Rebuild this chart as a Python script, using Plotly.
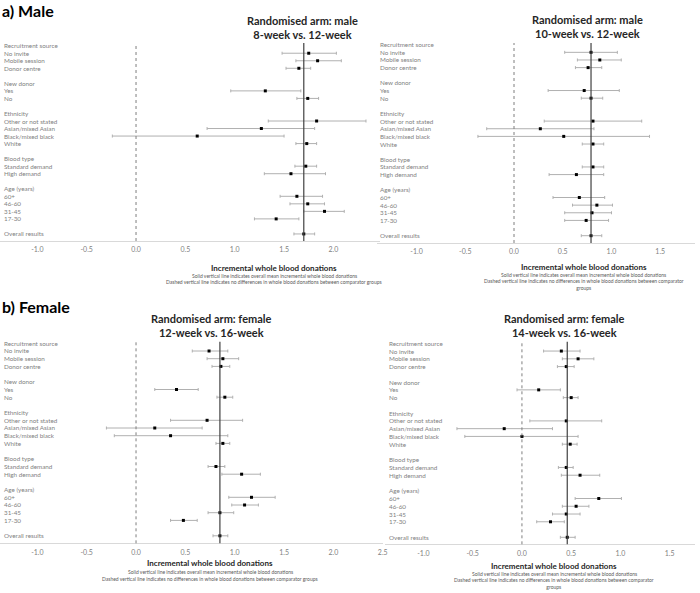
import plotly.graph_objects as go

W, H = 700, 593

# ---------------- data ----------------
row_labels = ["Recruitment source", "No invite", "Mobile session", "Donor centre", "",
              "New donor", "Yes", "No", "",
              "Ethnicity", "Other or not stated", "Asian/mixed Asian", "Black/mixed black", "White", "",
              "Blood type", "Standard demand", "High demand", "",
              "Age (years)", "60+", "46-60", "31-45", "17-30", "",
              "Overall results"]

subgroups = ["No invite", "Mobile session", "Donor centre", "Yes", "No",
             "Other or not stated", "Asian/mixed Asian", "Black/mixed black", "White",
             "Standard demand", "High demand", "60+", "46-60", "31-45", "17-30", "Overall results"]

tick_vals = [-1.0, -0.5, 0.0, 0.5, 1.0, 1.5, 2.0, 2.5]
tick_text = ["-1.0", "-0.5", "0.0", "0.5", "1.0", "1.5", "2.0", "2.5"]

# Panel a-left: male 8-week vs 12-week
m8_est = [1.75, 1.84, 1.65, 1.31, 1.74, 1.83, 1.27, 0.62, 1.73, 1.72, 1.57, 1.63, 1.74, 1.91, 1.42, 1.70]
m8_lo  = [1.48, 1.62, 1.52, 0.96, 1.63, 1.34, 0.72, -0.24, 1.62, 1.61, 1.30, 1.46, 1.56, 1.70, 1.20, 1.60]
m8_hi  = [2.03, 2.08, 1.77, 1.67, 1.85, 2.33, 1.81, 1.50, 1.83, 1.83, 1.92, 1.89, 1.91, 2.11, 1.65, 1.81]

# Panel a-right: male 10-week vs 12-week
m10_est = [0.79, 0.88, 0.76, 0.72, 0.79, 0.81, 0.27, 0.51, 0.81, 0.81, 0.64, 0.67, 0.85, 0.80, 0.74, 0.79]
m10_lo  = [0.52, 0.65, 0.63, 0.35, 0.69, 0.31, -0.28, -0.37, 0.70, 0.70, 0.36, 0.40, 0.60, 0.52, 0.52, 0.69]
m10_hi  = [1.06, 1.10, 0.90, 1.08, 0.91, 1.31, 0.82, 1.39, 0.92, 0.92, 0.92, 0.93, 1.01, 1.00, 0.97, 0.90]

# Panel b-left: female 12-week vs 16-week
f12_est = [0.74, 0.88, 0.86, 0.41, 0.90, 0.72, 0.19, 0.35, 0.88, 0.81, 1.07, 1.17, 1.10, 0.85, 0.48, 0.85]
f12_lo  = [0.57, 0.72, 0.77, 0.19, 0.82, 0.35, -0.30, -0.22, 0.81, 0.73, 0.87, 0.94, 0.97, 0.73, 0.35, 0.78]
f12_hi  = [0.93, 1.04, 0.95, 0.63, 0.98, 1.08, 0.67, 0.93, 0.95, 0.90, 1.26, 1.41, 1.24, 0.99, 0.62, 0.93]

# Panel b-right: female 14-week vs 16-week
f14_est = [0.40, 0.57, 0.45, 0.17, 0.50, 0.45, -0.18, 0.00, 0.49, 0.45, 0.59, 0.78, 0.55, 0.45, 0.29, 0.46]
f14_lo  = [0.22, 0.41, 0.36, -0.05, 0.42, 0.08, -0.66, -0.58, 0.41, 0.37, 0.40, 0.54, 0.41, 0.31, 0.15, 0.39]
f14_hi  = [0.59, 0.73, 0.53, 0.39, 0.57, 0.81, 0.31, 0.57, 0.56, 0.52, 0.79, 1.01, 0.68, 0.59, 0.43, 0.54]

panel_titles = ["Randomised arm: male<br>8-week vs. 12-week",
                "Randomised arm: male<br>10-week vs. 12-week",
                "Randomised arm: female<br>12-week vs. 16-week",
                "Randomised arm: female<br>14-week vs. 16-week"]
axis_title = "Incremental whole blood donations"
note1 = "Solid vertical line indicates overall mean incremental whole blood donations"
note2 = "Dashed vertical line indicates no differences in whole blood donations between comparator groups"
note2_wrapped = "Dashed vertical line indicates no differences in whole blood donations between comparator<br>groups"

# ---------------- layout geometry (pixels) ----------------
panels = [
    dict(est=m8_est, lo=m8_lo, hi=m8_hi, x0=0, x1=383, zero=137.0, ppu=99.4,
         ytop=43, ybot=241, row0=45.7, rowsp=7.53, lab_x=2,
         title_xy=(305, 28), ax_xy=(276, 267.5), notes=[(276, 275.5, note1), (276, 281.5, note2)]),
    dict(est=m10_est, lo=m10_lo, hi=m10_hi, x0=380, x1=700, zero=517.7, ppu=98.2,
         ytop=43, ybot=243, row0=44.7, rowsp=7.64, lab_x=381,
         title_xy=(591.7, 27), ax_xy=(588, 267), notes=[(588, 274.7, note1), (588, 284.5, note2_wrapped)]),
    dict(est=f12_est, lo=f12_lo, hi=f12_hi, x0=0, x1=385.5, zero=137.0, ppu=99.4,
         ytop=341.7, ybot=543.3, row0=343.3, rowsp=7.7, lab_x=2,
         title_xy=(212.8, 325.3), ax_xy=(211.7, 563.3), notes=[(211.7, 571.7, note1), (211.7, 578.7, note2)]),
    dict(est=f14_est, lo=f14_lo, hi=f14_hi, x0=388, x1=700, zero=525.7, ppu=99.2,
         ytop=341.7, ybot=544.3, row0=343.3, rowsp=7.76, lab_x=390,
         title_xy=(569, 325.3), ax_xy=(558, 566), notes=[(558, 573.7, note1), (558, 583.6, note2_wrapped)]),
]

FONT = "Lato"
GREY_TXT = "#7f7f7f"

fig = go.Figure()
annotations = []
shapes = []

def px(x):
    return x / W

def py(y):
    return 1 - y / H

row_idx = [row_labels.index(s) for s in subgroups]

for i, p in enumerate(panels, start=1):
    xa = "x" if i == 1 else f"x{i}"
    ya = "y" if i == 1 else f"y{i}"
    est, lo, hi = p["est"], p["lo"], p["hi"]
    fig.add_trace(go.Scatter(
        x=est, y=row_idx, xaxis=xa, yaxis=ya, mode="markers",
        marker=dict(symbol="square", size=3, color="black"),
        error_x=dict(type="data", symmetric=False,
                     array=[h - e for h, e in zip(hi, est)],
                     arrayminus=[e - l for e, l in zip(est, lo)],
                     color="#b0b0b0", thickness=1, width=1.5),
        showlegend=False, hoverinfo="skip", cliponaxis=False))

    xr = [(p["x0"] - p["zero"]) / p["ppu"], (p["x1"] - p["zero"]) / p["ppu"]]
    yr = [(p["ybot"] - p["row0"]) / p["rowsp"], (p["ytop"] - p["row0"]) / p["rowsp"]]
    xkey = "xaxis" if i == 1 else f"xaxis{i}"
    ykey = "yaxis" if i == 1 else f"yaxis{i}"
    fig.update_layout(**{
        xkey: dict(domain=[px(p["x0"]), px(p["x1"])], range=xr, anchor=ya,
                   tickvals=tick_vals, ticktext=tick_text, showgrid=False, zeroline=False,
                   showline=True, linecolor="#d9d9d9", linewidth=1, ticks="",
                   ticklabelstandoff=2,
                   tickfont=dict(family=FONT, size=7, color=GREY_TXT), fixedrange=True),
        ykey: dict(domain=[py(p["ybot"]), py(p["ytop"])], range=yr, anchor=xa,
                   showgrid=False, zeroline=False, showline=False, showticklabels=False,
                   ticks="", fixedrange=True),
    })

    # vertical reference lines
    shapes.append(dict(type="line", xref=xa, yref=f"{ya} domain", x0=0, x1=0, y0=0, y1=1,
                       line=dict(color="#7f7f7f", width=1, dash="dot")))
    shapes.append(dict(type="line", xref=xa, yref=f"{ya} domain", x0=est[-1], x1=est[-1], y0=0, y1=1,
                       line=dict(color="#404040", width=1.2)))

    # row labels
    for r, lab in enumerate(row_labels):
        if not lab:
            continue
        annotations.append(dict(text=lab, xref="paper", yref=ya, x=px(p["lab_x"]), y=r,
                                xanchor="left", yanchor="middle", showarrow=False,
                                font=dict(family=FONT, size=6.3, color=GREY_TXT)))

    # panel title
    tx, ty = p["title_xy"]
    annotations.append(dict(text=f"<b>{panel_titles[i-1]}</b>", xref="paper", yref="paper",
                            x=px(tx), y=py(ty), xanchor="center", yanchor="middle", showarrow=False,
                            font=dict(family=FONT, size=11, color="#262626")))
    # axis title
    ax, ay = p["ax_xy"]
    annotations.append(dict(text=f"<b>{axis_title}</b>", xref="paper", yref="paper",
                            x=px(ax), y=py(ay), xanchor="center", yanchor="middle", showarrow=False,
                            font=dict(family=FONT, size=8, color="#262626")))
    for nx, ny, nt in p["notes"]:
        annotations.append(dict(text=nt, xref="paper", yref="paper", x=px(nx), y=py(ny),
                                xanchor="center", yanchor="middle", showarrow=False,
                                font=dict(family=FONT, size=5, color="#595959")))

# section headings
annotations.append(dict(text="<b>a) Male</b>", xref="paper", yref="paper", x=0, y=py(10),
                        xanchor="left", yanchor="middle", showarrow=False,
                        font=dict(family=FONT, size=16, color="black")))
annotations.append(dict(text="<b>b) Female</b>", xref="paper", yref="paper", x=0, y=py(306),
                        xanchor="left", yanchor="middle", showarrow=False,
                        font=dict(family=FONT, size=16, color="black")))

fig.update_layout(width=W, height=H, margin=dict(l=0, r=0, t=0, b=0),
                  paper_bgcolor="white", plot_bgcolor="rgba(0,0,0,0)",
                  annotations=annotations, shapes=shapes, showlegend=False)

fig.write_html("out.html", config={"displayModeBar": False},
               post_script="document.body.style.margin='0';document.body.style.overflow='hidden';")
